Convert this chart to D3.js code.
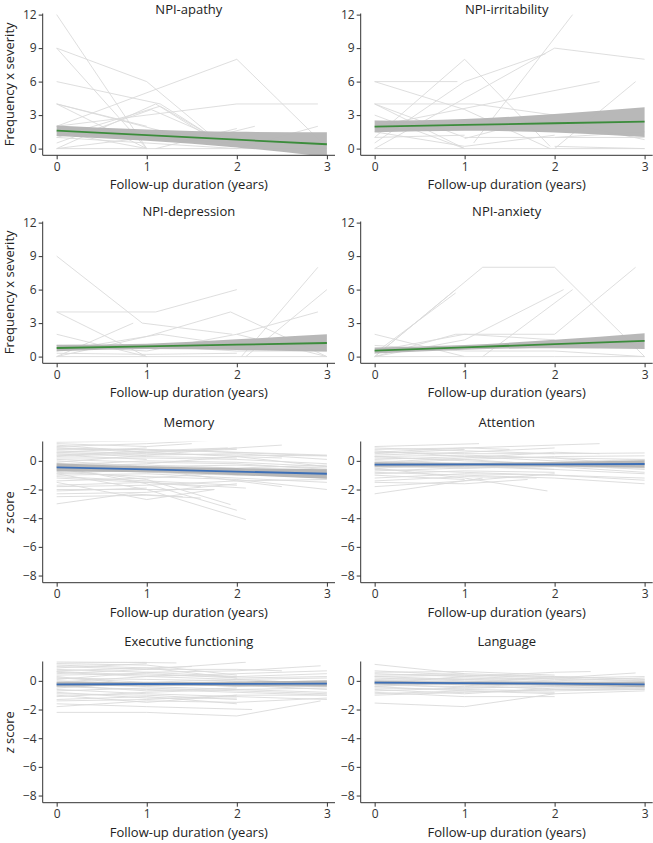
<!DOCTYPE html>
<html><head><meta charset="utf-8">
<script src="https://cdn.jsdelivr.net/npm/d3@7"></script>
<style>
body{margin:0;background:#fff;}
svg{display:block;font-family:"Open Sans",sans-serif;}
</style></head><body>
<svg id="c" width="653" height="843"></svg>
<script>
// ---------- data ----------
const panelTitles = ["NPI-apathy","NPI-irritability","NPI-depression","NPI-anxiety","Memory","Attention","Executive functioning","Language"];
const xTicks = [0,1,2,3];
const npiTicks = [0,3,6,9,12];
const zTicks = [-8,-6,-4,-2,0];
const xLabel = "Follow-up duration (years)";
const npiYLabel = "Frequency x severity";
const zYLabel = "z score";

const apathyLines = [
 [[0,12],[1,0]],
 [[0,9],[1,6],[1.7,1.3]],
 [[0,9],[1,0]],
 [[0,6],[1.15,4],[1.7,1.2]],
 [[0,2],[2,8],[2.95,0.5]],
 [[0,4],[1,0]],
 [[0,4],[1,2]],
 [[0,4],[1.2,1.5]],
 [[0,0],[1.1,4],[1.7,1]],
 [[0,1],[1.15,3.8],[1.7,1.2]],
 [[0,0.5],[1.05,3.5],[1.65,1.4]],
 [[0,2],[1,3],[2,4],[2.9,4]],
 [[2,0],[2.9,2]],
 [[1.7,1],[2.2,2]],
 [[0,1.5],[1,0]],
 [[0,0],[1,0],[2,0],[3,0]],
 [[0,1],[1,0.5],[2,0]],
 [[1.1,0],[2,1.8]],
 [[0,0],[1,1],[2,0.5]],
 [[0,1.2],[1,1.5],[2,1]]
];
const irritabilityLines = [
 [[0,6],[0.92,6]],
 [[0,6],[1,3.5],[1.95,0]],
 [[0,1],[1,8],[1.95,0.2]],
 [[0,0],[2,9],[3,8]],
 [[1.1,0.5],[2.2,12]],
 [[0,2],[2.5,6]],
 [[2,0],[2.9,6]],
 [[0,4],[1,0]],
 [[0,4],[1.1,4],[2,3]],
 [[0,3],[1,0]],
 [[0,4],[1,1]],
 [[0,0.5],[1,6],[1.9,8.5]],
 [[1,1],[2,1],[3,1]],
 [[0,1],[1,1.2]],
 [[2,0.2],[3,0]],
 [[0,0],[1,0],[2,0],[3,0]],
 [[1,0.9],[2,3]],
 [[2,1],[3,1.5]],
 [[0,1.5],[1,0.2],[2,1.2]],
 [[0,2.5],[1,2],[2,2.5],[3,0.8]]
];
const depressionLines = [
 [[0,9],[0.95,3],[1.95,2]],
 [[0,4],[1.1,4],[2,6]],
 [[0,4],[1,0]],
 [[0,2],[1,0]],
 [[0,0],[0.85,3]],
 [[0,0],[1,1.8],[1.93,4],[3,0]],
 [[2.05,0],[2.9,8]],
 [[2.1,0],[3,6]],
 [[2,2],[2.9,4]],
 [[0,0.5],[1.15,2],[2,1]],
 [[0,1],[1,0.5]],
 [[0,0],[1,0],[2,0],[3,0]],
 [[0,1],[1,1],[2,0.5],[3,0.5]],
 [[1,0.5],[2,2],[3,0]],
 [[0,0.3],[1,0.2],[2,0.3]]
];
const anxietyLines = [
 [[0,0],[0.9,6]],
 [[0,0.3],[0.9,5.7]],
 [[0,0],[1.2,8],[2,8],[3,0]],
 [[0,0],[1,1.5],[2.1,6]],
 [[0,0],[0.9,2],[2,2],[2.9,8]],
 [[1.2,0],[2.2,6]],
 [[0,2],[1,0]],
 [[2,0.5],[3,0]],
 [[0,0],[1,0],[2,0],[3,0]],
 [[0,0.5],[1,2],[2,1.5]],
 [[0,1],[1,0.5],[2,0.5]]
];
const memoryLines = [
 [[0,1.3],[1,1.4],[1.93,1.6]],
 [[0,1.0],[1,1.2],[2.1,1.55]],
 [[0,0.9],[1,0.6],[2,0.9],[2.5,1.1]],
 [[0,0.7],[1,0.5],[2,0.4],[3,0.35]],
 [[0,0.5],[1,0.3],[2,0.2]],
 [[0,0.3],[1,0.6],[2,0.8]],
 [[0,0.1],[1,-0.1],[2,-0.2],[3,-0.6]],
 [[0,-0.2],[1,-0.3],[2,-0.5],[3,-0.3]],
 [[0,-0.5],[1,-0.8],[2,-1.0],[3,-1.0]],
 [[0,-0.8],[1,-1.1],[2,-1.3],[3,-2.0]],
 [[0,-1.0],[1,-0.9],[2,-1.2],[3,-1.5]],
 [[0,-1.2],[1,-1.5],[2.1,-1.9]],
 [[0,-1.5],[1,-2.7],[1.75,-2.0]],
 [[0,-2.0],[1,-2.0],[1.75,-2.0]],
 [[0,-2.3],[1,-2.2],[2,-1.6]],
 [[0,-3.0],[0.8,-2.3],[1.4,-2.5]],
 [[0,-0.9],[1,-2.0],[2.1,-4.1]],
 [[0,-0.4],[1,-1.6],[2,-3.45]],
 [[0,-0.6],[1,-1.3],[1.93,-3.05]],
 [[0,0.8],[1,0.8],[3,0.35]],
 [[0,-1.8],[1,-1.7],[2,-1.4],[3,-1.3]],
 [[0,0.2],[1,0.2],[2,0.1],[3,-0.2]],
 [[0,-0.1],[1,0.4],[2,0.9]],
 [[0,1.1],[1,0.6],[2,0.3],[3,-0.4]],
 [[0,0.6],[1,0.9]],
 [[0,-1.4],[1,-1.2],[2,-0.8],[3,-1.0]],
 [[0,-0.3],[1,-0.6],[2.5,-1.8]],
 [[0,0.4],[1,0.1]],
 [[0,-2.1],[1,-1.9]],
 [[0,-0.7],[1,-0.4],[2,-0.3],[3,-0.5]],
 [[0,0.9],[1.5,0.7],[2,0.6],[3,0.4]],
 [[0,1.2],[1,1.0],[1.5,1.2]],
 [[0,0.4],[1,0.7],[1.9,0.9]],
 [[0,-0.4],[1,-0.2],[2,0.3],[2.5,0.2]],
 [[0,-0.9],[1,-0.6],[2,-0.9],[3,-1.2]],
 [[0,-1.1],[1,-1.4],[2,-1.7]],
 [[0,-1.7],[1,-1.5],[1.6,-1.8]],
 [[0,0.0],[1,-0.4],[2,-0.9]],
 [[0,-0.3],[1,0.0],[2,-0.1],[3,-0.4]],
 [[0,0.6],[1,0.4],[2,0.5],[3,0.1]],
 [[0,-2.5],[1,-2.4],[1.6,-2.6]]
];
const attentionLines = [
 [[0,1.0],[1.16,1.2]],
 [[0,0.8],[1,0.9],[2.5,1.2]],
 [[0,0.6],[1,0.5],[2,0.5],[3,0.55]],
 [[0,0.4],[1,0.6],[2,0.9]],
 [[0,0.2],[1,0.1],[2,0.3],[3,0.35]],
 [[0,0.0],[1,-0.2],[2,-0.1],[3,0.1]],
 [[0,-0.2],[1,0.1],[2,-0.3],[3,-0.2]],
 [[0,-0.4],[1,-0.5],[2,-0.4],[3,-0.5]],
 [[0,-0.6],[1,-0.8],[2,-1.0],[3,-1.2]],
 [[0,-0.8],[1,-1.0],[2,-1.2],[3,-1.6]],
 [[0,-1.0],[1,-1.3]],
 [[0,-1.8],[1,-1.4],[2,-0.9]],
 [[0,-2.3],[1.2,-1.2]],
 [[0,-0.5],[1,-1.2],[1.92,-2.1]],
 [[0,0.3],[1,0.4],[2,0.2],[3,-0.3]],
 [[0,-1.2],[1,-0.9],[2,-1.0],[3,-1.35]],
 [[0,0.7],[1,0.3],[2,0.2],[3,0.1]],
 [[0,-0.3],[1,-0.4],[2,-0.6]],
 [[0,0.5],[1,0.8]],
 [[0,-0.7],[1,-0.5],[2,-0.4],[3,-0.8]],
 [[0,-0.1],[1,0.2],[2,0.6],[2.5,0.5]],
 [[0,-1.4],[1,-1.1],[1.8,-1.2]],
 [[0,0.9],[1,0.7],[2,0.5]],
 [[0,0.1],[1,0.3],[2,0.0],[3,-0.1]],
 [[0,-0.5],[1,-0.3],[2,-0.6],[3,-0.9]],
 [[0,0.6],[1,0.9],[1.5,0.8]],
 [[0,-0.9],[1,-0.7],[2,-0.8]],
 [[0,0.3],[1,0.0],[2,-0.2],[3,0.0]],
 [[0,-0.1],[1,-0.5],[2,-0.3],[3,-0.6]],
 [[0,-1.5],[1,-1.6],[1.7,-1.3]]
];
const executiveLines = [
 [[0,1.35],[1.33,1.25]],
 [[0,1.2],[1,1.1],[2,0.4]],
 [[0,1.0],[1,0.8],[2.1,1.3]],
 [[0,0.8],[1,0.6],[2,0.7],[2.93,1.05]],
 [[0,0.6],[1,0.3],[2,0.5],[3,0.7]],
 [[0,0.4],[1,0.5],[2,0.2],[3,0.3]],
 [[0,0.2],[1,0.1],[2,0.0],[3,-0.1]],
 [[0,0.0],[1,-0.2],[2,-0.1],[3,-0.3]],
 [[0,-0.2],[1,-0.4],[2,-0.6],[3,-0.5]],
 [[0,-0.4],[1,-0.6],[2,-0.8],[3,-1.0]],
 [[0,-0.6],[1,-0.9],[2,-1.1],[3,-1.3]],
 [[0,-0.8],[1,-1.2],[2,-1.2]],
 [[0,-1.0],[1,-1.5],[2,-1.0]],
 [[0,-1.3],[1,-1.1],[2,-1.6]],
 [[0,-1.6],[1,-1.8],[2.17,-2.0]],
 [[0,-2.2],[1,-2.2],[2,-2.45],[2.93,-1.4]],
 [[0,-1.8],[1,-1.4],[2,-1.5],[3,-1.2]],
 [[0,0.9],[1,1.2]],
 [[0,0.7],[1,0.9],[2,0.2]],
 [[0,-0.1],[1,0.3],[2,0.1],[3,0.2]],
 [[0,0.3],[1,-0.3],[2,-0.3],[3,-0.6]],
 [[0,-0.5],[1,-0.1],[2,-0.4],[3,-0.2]],
 [[0,-1.1],[1,-0.8],[2,-0.6],[3,-0.8]],
 [[0,0.5],[1,0.8],[2,0.8],[2.5,0.7]],
 [[0,-0.3],[1,-0.7],[2,-0.5]],
 [[0,1.1],[1,0.9],[1.5,1.0]],
 [[0,0.65],[1,0.4],[2,0.3],[3,0.5]],
 [[0,-0.7],[1,-0.5],[2,-0.7],[3,-0.9]],
 [[0,0.1],[1,0.6],[2,0.3]],
 [[0,-1.4],[1,-1.3],[2,-1.0],[3,-1.0]],
 [[0,1.25],[1,1.3]],
 [[0,-0.9],[1,-1.0],[2,-1.3]],
 [[0,0.2],[1,-0.1],[2,0.1],[3,-0.2]]
];
const languageLines = [
 [[0,1.15],[1,0.5],[2,0.3],[3,0.1]],
 [[0,0.6],[1,0.65],[2,0.4]],
 [[0,0.5],[1,0.3],[2,0.6],[2.4,0.65]],
 [[0,0.3],[1,0.1],[2,0.2],[2.9,0.55]],
 [[0,0.1],[1,0.2],[2,0.0],[3,0.2]],
 [[0,-0.1],[1,-0.2],[2,-0.3],[3,-0.2]],
 [[0,-0.3],[1,-0.4],[2,-0.2],[3,-0.4]],
 [[0,-0.5],[1,-0.6],[2,-0.7],[3,-0.6]],
 [[0,-0.7],[1,-0.5],[2,-0.4],[3,-0.3]],
 [[0,-0.8],[1,-1.1],[2,-1.1]],
 [[0,-1.55],[1,-1.8],[2,-0.9],[3,-0.7]],
 [[0,0.4],[1,0.5]],
 [[0,-0.2],[1,0.3],[2,0.1],[3,0.0]],
 [[0,0.0],[1,-0.3],[2,-0.6],[3,-0.5]],
 [[0,-0.6],[1,-0.9],[2,-0.5],[3,-0.4]],
 [[0,0.2],[1,0.0],[2,-0.1],[3,-0.1]],
 [[0,-0.4],[1,-0.1],[2,0.2],[3,0.3]],
 [[0,-0.9],[1,-0.7],[2,-0.8]],
 [[0,0.7],[1,0.4],[2,0.2],[3,0.0]],
 [[0,-0.2],[1,-0.5],[2,-0.4],[3,-0.5]],
 [[0,0.3],[1,0.4],[2,0.3],[3,0.1]],
 [[0,-1.0],[1,-0.8],[2,-0.6],[3,-0.6]],
 [[0,0.0],[1,0.1],[2,-0.1],[3,-0.3]],
 [[0,-0.4],[1,-0.7],[2,-0.9]]
];
// model fit (at years 0,1,2,3) and confidence band
const fitYears = [0,1,2,3];
const apathyFit = [1.61,1.2,0.8,0.39];
const apathyLo  = [1.13,0.7,0.1,-0.75];
const apathyHi  = [2.08,1.72,1.5,1.46];
const irritabilityFit = [1.97,2.12,2.27,2.42];
const irritabilityLo  = [1.46,1.6,1.45,1.05];
const irritabilityHi  = [2.5,2.65,3.1,3.7];
const depressionFit = [0.77,0.92,1.07,1.22];
const depressionLo  = [0.48,0.68,0.6,0.45];
const depressionHi  = [1.07,1.16,1.55,2.0];
const anxietyFit = [0.54,0.83,1.11,1.4];
const anxietyLo  = [0.28,0.62,0.75,0.68];
const anxietyHi  = [0.82,1.04,1.5,2.1];
const memoryFit = [-0.45,-0.6,-0.75,-0.9];
const memoryLo  = [-0.75,-0.8,-1.0,-1.25];
const memoryHi  = [-0.17,-0.38,-0.5,-0.58];
const attentionFit = [-0.27,-0.25,-0.24,-0.22];
const attentionLo  = [-0.42,-0.38,-0.4,-0.48];
const attentionHi  = [-0.1,-0.14,-0.08,0.05];
const executiveFit = [-0.24,-0.22,-0.21,-0.19];
const executiveLo  = [-0.4,-0.35,-0.37,-0.42];
const executiveHi  = [-0.07,-0.1,-0.05,0.05];
const languageFit = [-0.12,-0.16,-0.2,-0.24];
const languageLo  = [-0.25,-0.27,-0.33,-0.45];
const languageHi  = [0.0,-0.05,-0.07,-0.05];

// ---------- layout ----------
const cols = [{axisX:42.7,right:335},{axisX:360.7,right:652.7}];
const rows = [
 {top:13.5,bottom:155.3,title:14},
 {top:221.5,bottom:363.3,title:215.5},
 {top:441.5,bottom:582.7,title:426.5},
 {top:661.5,bottom:802.7,title:645.5}
];
const xDom = [-0.155,3.09];
const npiDom = [-0.6,12.1];
const zDom = [-8.5,1.35];
const GREEN = "#3c8c3c", BLUE = "#3d6fb6", BAND = "#b4b4b4", SPAG = "#dadada";

const panels = [
 {lines:apathyLines, fit:apathyFit, lo:apathyLo, hi:apathyHi, kind:"npi"},
 {lines:irritabilityLines, fit:irritabilityFit, lo:irritabilityLo, hi:irritabilityHi, kind:"npi"},
 {lines:depressionLines, fit:depressionFit, lo:depressionLo, hi:depressionHi, kind:"npi"},
 {lines:anxietyLines, fit:anxietyFit, lo:anxietyLo, hi:anxietyHi, kind:"npi"},
 {lines:memoryLines, fit:memoryFit, lo:memoryLo, hi:memoryHi, kind:"z"},
 {lines:attentionLines, fit:attentionFit, lo:attentionLo, hi:attentionHi, kind:"z"},
 {lines:executiveLines, fit:executiveFit, lo:executiveLo, hi:executiveHi, kind:"z"},
 {lines:languageLines, fit:languageFit, lo:languageLo, hi:languageHi, kind:"z"}
];

const svg = d3.select("#c");
panels.forEach((p,i)=>{
  const col = cols[i%2], row = rows[Math.floor(i/2)];
  const isNpi = p.kind==="npi";
  const x = d3.scaleLinear().domain(xDom).range([col.axisX,col.right]);
  const y = d3.scaleLinear().domain(isNpi?npiDom:zDom).range([row.bottom,row.top]);
  const g = svg.append("g");
  const cid = "clip"+i;
  g.append("clipPath").attr("id",cid).append("rect")
    .attr("x",col.axisX).attr("y",row.top).attr("width",col.right-col.axisX).attr("height",row.bottom-row.top);
  const plot = g.append("g").attr("clip-path",`url(#${cid})`);
  const line = d3.line().x(d=>x(d[0])).y(d=>y(d[1]));
  plot.selectAll("path.sp").data(p.lines).join("path").attr("class","sp")
    .attr("d",line).attr("fill","none").attr("stroke",SPAG).attr("stroke-width",0.9);
  const band = fitYears.map((t,k)=>({t,lo:p.lo[k],hi:p.hi[k]}));
  plot.append("path").datum(band)
    .attr("d",d3.area().curve(d3.curveMonotoneX).x(d=>x(d.t)).y0(d=>y(d.lo)).y1(d=>y(d.hi)))
    .attr("fill",BAND).attr("fill-opacity",0.95);
  plot.append("path").datum(fitYears.map((t,k)=>[t,p.fit[k]]))
    .attr("d",line).attr("fill","none").attr("stroke",isNpi?GREEN:BLUE).attr("stroke-width",1.8);

  // axes
  const ax = g.append("g").attr("transform",`translate(0,${row.bottom})`)
    .call(d3.axisBottom(x).tickValues(xTicks).tickFormat(d3.format("d")).tickSizeOuter(0).tickSize(4).tickPadding(3));
  const ay = g.append("g").attr("transform",`translate(${col.axisX},0)`)
    .call(d3.axisLeft(y).tickValues(isNpi?npiTicks:zTicks).tickSizeOuter(0).tickSize(4).tickPadding(2));
  [ax,ay].forEach(a=>{
    a.selectAll("path,line").attr("stroke","#333").attr("stroke-width",1);
    a.selectAll("text").attr("fill","#333").style("font-size","12px").style("font-family","Open Sans");
  });
  ax.select(".domain").attr("d",`M${col.axisX},0H${col.right}`);
  ay.select(".domain").attr("d",`M0,${row.bottom}V${row.top}`);

  const cx = (col.axisX+col.right)/2;
  g.append("text").attr("x",cx).attr("y",row.title).attr("text-anchor","middle")
    .attr("fill","#222").style("font-size","13px").text(panelTitles[i]);
  g.append("text").attr("x",cx).attr("y",row.bottom+34).attr("text-anchor","middle")
    .attr("fill","#222").style("font-size","13px").text(xLabel);
  if(i%2===0){
    const cy = (row.top+row.bottom)/2;
    const bx = 14;
    const t = g.append("text").attr("transform",`translate(${bx},${cy}) rotate(-90)`)
      .attr("text-anchor","middle").attr("fill","#222").style("font-size","13px");
    if(isNpi){ t.text(npiYLabel); }
    else {
      t.append("tspan").style("font-style","italic").text(zYLabel.split(" ")[0]);
      t.append("tspan").text(" "+zYLabel.split(" ").slice(1).join(" "));
    }
  }
});
</script>
</body></html>
